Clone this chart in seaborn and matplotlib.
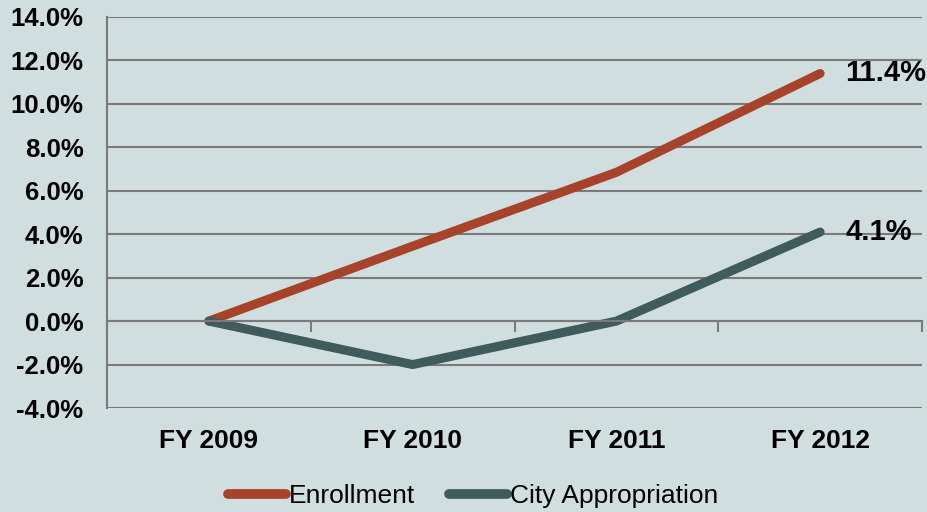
import matplotlib
matplotlib.use("Agg")
import matplotlib.pyplot as plt
import seaborn as sns
import pandas as pd
from matplotlib.ticker import FixedLocator, FuncFormatter
from matplotlib.lines import Line2D

years = ["FY 2009", "FY 2010", "FY 2011", "FY 2012"]
enrollment = [0.0, 3.45, 6.85, 11.4]
city_appropriation = [0.0, -2.0, 0.0, 4.1]
series_names = ["Enrollment", "City Appropriation"]
end_labels = ["11.4%", "4.1%"]
y_ticks = [-4, -2, 0, 2, 4, 6, 8, 10, 12, 14]

BG = "#D1DEDF"
RED = "#A8432B"
TEAL = "#405B5B"
GRID = "#7A7A7A"

sns.set_theme(style="white")
plt.rcParams["font.family"] = ["Liberation Sans", "DejaVu Sans"]
plt.rcParams["text.color"] = "#000000"

df = pd.DataFrame({
    "year": years * 2,
    "value": enrollment + city_appropriation,
    "series": [series_names[0]] * 4 + [series_names[1]] * 4,
})

fig = plt.figure(figsize=(9.27, 5.12), dpi=100, facecolor=BG)
ax = fig.add_axes([107 / 927, 1 - 408 / 512, (922 - 107) / 927, (408 - 17) / 512])
ax.set_facecolor(BG)

sns.lineplot(data=df, x="year", y="value", hue="series",
             palette={series_names[0]: RED, series_names[1]: TEAL},
             linewidth=6.5, ax=ax, legend=False, sort=False,
             solid_capstyle="round", solid_joinstyle="round")

ax.set_xlim(-0.5, 3.5)
ax.set_ylim(-4, 14)
ax.set_xlabel("")
ax.set_ylabel("")

# y axis
ax.yaxis.set_major_locator(FixedLocator(y_ticks))
ax.yaxis.set_major_formatter(FuncFormatter(lambda v, p: f"{v:.1f}%"))
ax.grid(axis="y", color=GRID, linewidth=1.5)
ax.grid(axis="x", visible=False)
ax.set_axisbelow(True)
ax.tick_params(axis="y", which="major", direction="out", length=7, width=1.5,
               color=GRID, pad=10, labelsize=18.5)
for lbl in ax.get_yticklabels():
    lbl.set_fontweight("bold")
    lbl.set_color("#000000")

# spines
for s in ["top", "right"]:
    ax.spines[s].set_visible(False)
ax.spines["left"].set_color(GRID)
ax.spines["left"].set_linewidth(1.5)
ax.spines["bottom"].set_position(("data", 0))
ax.spines["bottom"].set_color(GRID)
ax.spines["bottom"].set_linewidth(1.5)

# category boundary ticks on zero line
ax.xaxis.set_major_locator(FixedLocator([-0.5, 0.5, 1.5, 2.5, 3.5]))
ax.xaxis.set_major_formatter(FuncFormatter(lambda v, p: ""))
ax.tick_params(axis="x", which="major", direction="out", length=8, width=1.5,
               color=GRID, bottom=True)

# category labels at bottom
sec = ax.secondary_xaxis("bottom")
sec.set_xticks(range(len(years)))
sec.set_xticklabels(years, fontsize=19, fontweight="bold", color="#000000")
sec.tick_params(length=0, pad=15)
sec.spines["bottom"].set_visible(False)

# end labels
ends = [enrollment[-1], city_appropriation[-1]]
for val, txt in zip(ends, end_labels):
    ax.annotate(txt, xy=(len(years) - 1, val), xytext=(18, 0),
                textcoords="offset points", ha="left", va="center",
                fontsize=21, fontweight="bold", color="#000000",
                annotation_clip=False)

# legend
handles = [Line2D([0], [0], color=RED, linewidth=7, solid_capstyle="round"),
           Line2D([0], [0], color=TEAL, linewidth=7, solid_capstyle="round")]
leg = fig.legend(handles, series_names, loc="center", ncol=2, frameon=False,
                 bbox_to_anchor=(473 / 927, 1 - 496 / 512), fontsize=19,
                 handlelength=2.2, handletextpad=0.1, columnspacing=1.3)
for t in leg.get_texts():
    t.set_color("#000000")

fig.savefig("out.png", dpi=100, facecolor=BG)
